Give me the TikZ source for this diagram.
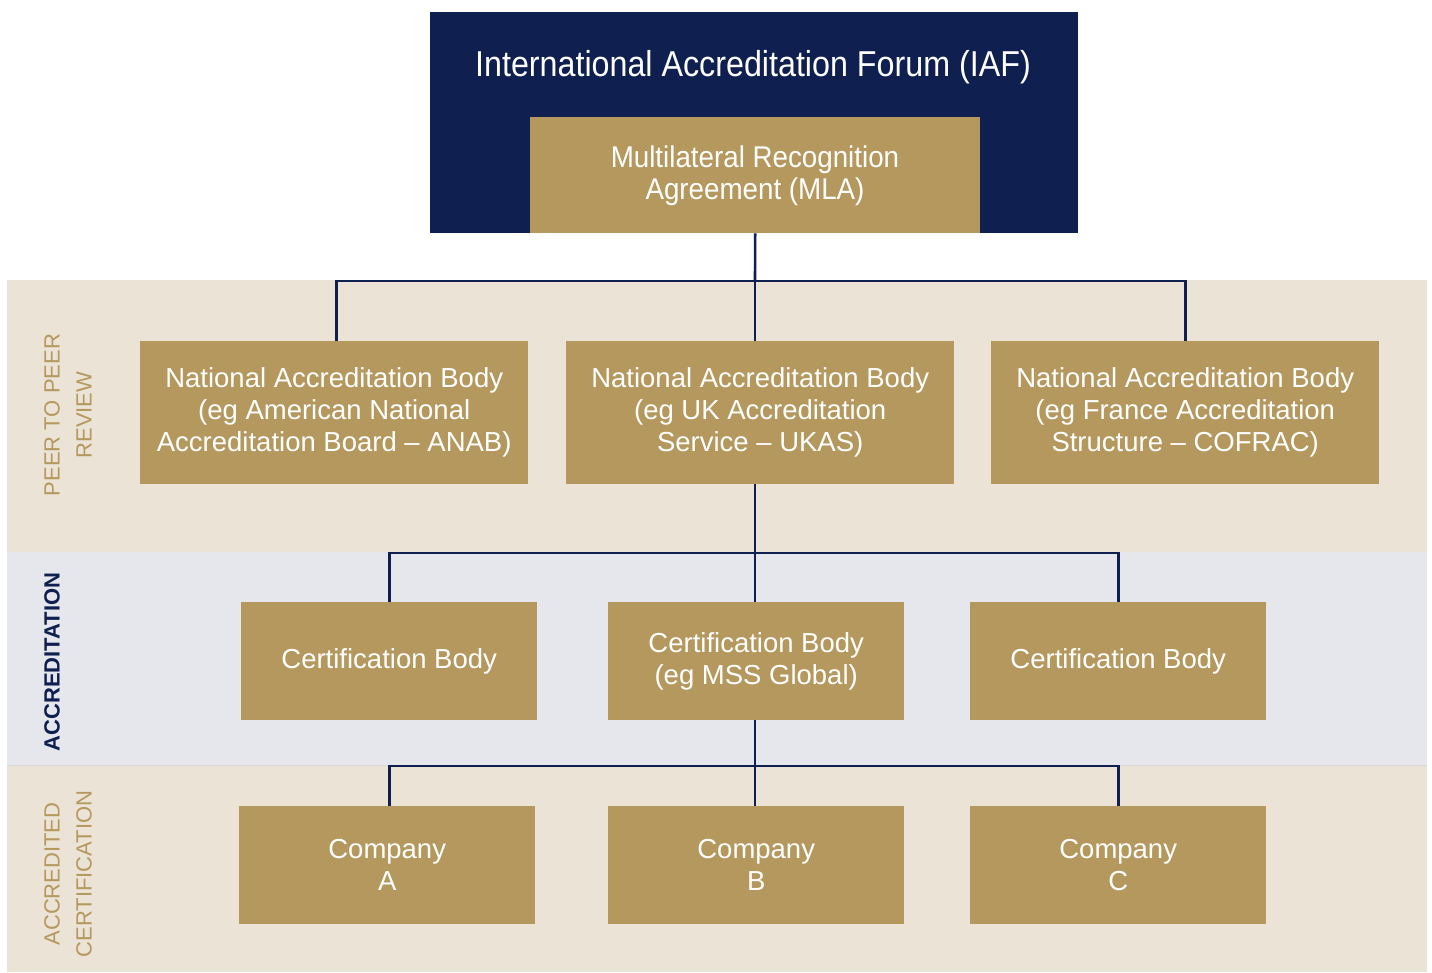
\documentclass[tikz,border=0pt]{standalone}
\usepackage{fontspec}
\setmainfont{Liberation Sans}
\begin{document}
\begin{tikzpicture}[x=1pt,y=-1pt,
  box/.style={fill=gold,draw=none,text=white,align=center,font=\fontsize{27.5}{32}\selectfont,inner sep=0pt},
  conn/.style={draw=navy,line width=2.6pt},
  side/.style={rotate=90,align=center,font=\fontsize{22}{32}\selectfont,inner sep=0pt}]
\definecolor{navy}{HTML}{0F1F4F}
\definecolor{gold}{HTML}{B5985D}
\definecolor{beige}{HTML}{EBE3D5}
\definecolor{greyband}{HTML}{E6E7EC}
\useasboundingbox (0,0) rectangle (1432,972);
\fill[white] (0,0) rectangle (1432,972);
% bands
\fill[beige] (7,280) rectangle (1427,552);
\fill[greyband] (7,552) rectangle (1427,765);
\fill[beige] (7,765) rectangle (1427,972);
\draw[black!15,line width=0.8pt] (7,765) -- (1427,765);
% IAF
\node[fill=navy,minimum width=648pt,minimum height=221pt,anchor=north west,inner sep=0pt] (iaf) at (430,12) {};
\node[text=white,font=\fontsize{36}{40}\selectfont] (iaft) at (753,67) {\scalebox{0.896}[1]{International Accreditation Forum (IAF)}};
\node[box,minimum width=450pt,minimum height=116pt,anchor=north west] (mla) at (530,117) {};
\node[text=white,align=center,font=\fontsize{30}{32}\selectfont] (mlat) at (755,176) {\scalebox{0.925}[1]{Multilateral Recognition}\\\scalebox{0.925}[1]{Agreement (MLA)}};
% NABs
\node[box,minimum width=388pt,minimum height=143pt,anchor=north west] (n1) at (140,341) {National Accreditation Body\\(eg American National\\Accreditation Board -- ANAB)};
\node[box,minimum width=388pt,minimum height=143pt,anchor=north west] (n2) at (566,341) {National Accreditation Body\\(eg UK Accreditation\\Service -- UKAS)};
\node[box,minimum width=388pt,minimum height=143pt,anchor=north west] (n3) at (991,341) {National Accreditation Body\\(eg France Accreditation\\Structure -- COFRAC)};
% Cert bodies
\node[box,minimum width=296pt,minimum height=118pt,anchor=north west] (c1) at (241,602) {Certification Body};
\node[box,minimum width=296pt,minimum height=118pt,anchor=north west] (c2) at (608,602) {Certification Body\\(eg MSS Global)};
\node[box,minimum width=296pt,minimum height=118pt,anchor=north west] (c3) at (970,602) {Certification Body};
% Companies
\node[box,minimum width=296pt,minimum height=118pt,anchor=north west] (k1) at (239,806) {Company\\A};
\node[box,minimum width=296pt,minimum height=118pt,anchor=north west] (k2) at (608,806) {Company\\B};
\node[box,minimum width=296pt,minimum height=118pt,anchor=north west] (k3) at (970,806) {Company\\C};
% connectors
\coordinate (h1) at (755,281);
\coordinate (h2) at (755,553);
\coordinate (h3) at (755,766);
\draw[conn] (mla.south) -- (h1);
\draw[conn] ([xshift=2pt]n1.north) |- (h1) -| (n3.north);
\draw[conn] (h1) -- (n2.north -| h1);
\draw[conn] (n2.south -| h2) -- (h2);
\draw[conn] (c1.north) |- (h2) -| (c3.north);
\draw[conn] (h2) -- (c2.north -| h2);
\draw[conn] (c2.south -| h3) -- (h3);
\draw[conn] (k1.north -| c1.north) |- (h3) -| (k3.north);
\draw[conn] (h3) -- (k2.north -| h3);
% side labels
\node[side,text=gold] (s1) at (68,415) {PEER TO PEER\\REVIEW};
\node[side,text=navy,font=\bfseries\fontsize{22}{32}\selectfont] (s2) at (52,662) {ACCREDITATION};
\node[side,text=gold] (s3) at (68,874) {ACCREDITED\\CERTIFICATION};
\end{tikzpicture}
\end{document}
